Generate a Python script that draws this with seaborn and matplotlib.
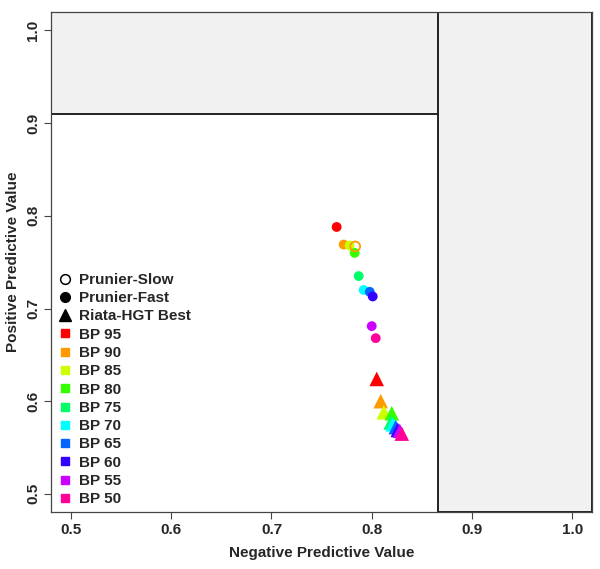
import pandas as pd
import matplotlib
matplotlib.use('Agg')
import matplotlib.pyplot as plt
import seaborn as sns
from matplotlib.lines import Line2D
from matplotlib.patches import Rectangle

# Dados
bp_labels = ['BP 95', 'BP 90', 'BP 85', 'BP 80', 'BP 75',
             'BP 70', 'BP 65', 'BP 60', 'BP 55', 'BP 50']
bp_colors = ['#FF0000', '#FF9900', '#CCFF00', '#33FF00', '#00FF66',
             '#00FFFF', '#0066FF', '#3300FF', '#CC00FF', '#FF0099']

# Prunier-Fast (circulos cheios)
fast_npv = [0.765, 0.772, 0.778, 0.783, 0.787, 0.792, 0.798, 0.801, 0.800, 0.804]
fast_ppv = [0.788, 0.769, 0.768, 0.760, 0.735, 0.720, 0.718, 0.713, 0.681, 0.668]

# Prunier-Slow (circulo aberto)
slow_labels = ['BP 90']
slow_npv = [0.7835]
slow_ppv = [0.767]

# Riata-HGT Best (triangulos)
riata_npv = [0.805, 0.809, 0.812, 0.820, 0.819, 0.821, 0.824, 0.826, 0.828, 0.830]
riata_ppv = [0.624, 0.600, 0.588, 0.587, 0.577, 0.575, 0.572, 0.569, 0.568, 0.565]

# Limites das regioes cinzas
npv_limit = 0.8659
ppv_limit = 0.9096

df_fast = pd.DataFrame({'NPV': fast_npv, 'PPV': fast_ppv, 'BP': bp_labels})
df_riata = pd.DataFrame({'NPV': riata_npv, 'PPV': riata_ppv, 'BP': bp_labels})
df_slow = pd.DataFrame({'NPV': slow_npv, 'PPV': slow_ppv, 'BP': slow_labels})
paleta = dict(zip(bp_labels, bp_colors))

sns.set_style('white')
plt.rcParams['font.family'] = ['Liberation Sans', 'DejaVu Sans']
plt.rcParams['font.weight'] = 'bold'

fig = plt.figure(figsize=(6, 5.69), dpi=100)
ax = fig.add_axes([0.085, 0.0995, 0.902, 0.8795])

x0, x1 = 0.48, 1.02
y0, y1 = 0.48, 1.02

# Regioes cinzas
ax.add_patch(Rectangle((x0, ppv_limit), x1 - x0, y1 - ppv_limit,
                       facecolor='#f1f1f1', edgecolor='#222222', lw=1.4, zorder=0))
ax.add_patch(Rectangle((npv_limit, y0), x1 - npv_limit, y1 - y0,
                       facecolor='#f1f1f1', edgecolor='#222222', lw=1.4, zorder=0))

sns.scatterplot(data=df_fast, x='NPV', y='PPV', hue='BP', palette=paleta,
                marker='o', s=50, linewidth=0, legend=False, ax=ax, zorder=3)
sns.scatterplot(data=df_riata, x='NPV', y='PPV', hue='BP', palette=paleta,
                marker='^', s=110, linewidth=0, legend=False, ax=ax, zorder=3)
for _, row in df_slow.iterrows():
    ax.scatter(row['NPV'], row['PPV'], s=50, facecolor='none',
               edgecolor=paleta[row['BP']], linewidth=1.3, zorder=4)

ax.set_xlim(x0, x1)
ax.set_ylim(y0, y1)
ax.set_xticks([0.5, 0.6, 0.7, 0.8, 0.9, 1.0])
ax.set_yticks([0.5, 0.6, 0.7, 0.8, 0.9, 1.0])
ax.set_xticklabels(['0.5', '0.6', '0.7', '0.8', '0.9', '1.0'], fontsize=11, fontweight='bold')
ax.set_yticklabels(['0.5', '0.6', '0.7', '0.8', '0.9', '1.0'], fontsize=11, fontweight='bold',
                   rotation=90, va='center')
ax.tick_params(axis='both', length=5, width=0.8, color='#444444', direction='out',
               bottom=True, left=True, pad=3)
for s in ax.spines.values():
    s.set_color('#444444')
    s.set_linewidth(0.9)

ax.set_xlabel('Negative Predictive Value', fontsize=11, fontweight='bold', labelpad=6)
ax.set_ylabel('Positive Predictive Value', fontsize=11, fontweight='bold', labelpad=4)

# Legenda
handles = [
    Line2D([], [], marker='o', linestyle='none', markerfacecolor='none',
           markeredgecolor='black', markersize=7, markeredgewidth=1.1),
    Line2D([], [], marker='o', linestyle='none', color='black', markersize=7),
    Line2D([], [], marker='^', linestyle='none', color='black', markersize=8),
]
labels = ['Prunier-Slow', 'Prunier-Fast', 'Riata-HGT Best']
for lab, cor in zip(bp_labels, bp_colors):
    handles.append(Line2D([], [], marker='s', linestyle='none', color=cor, markersize=6))
    labels.append(lab)

ax.legend(handles, labels, loc='lower left', bbox_to_anchor=(0.0, 0.0),
          frameon=False, prop={'size': 11, 'weight': 'bold'},
          handlelength=1.0, handletextpad=0.45, labelspacing=0.28, borderaxespad=0)

plt.savefig('out.png', dpi=100)
